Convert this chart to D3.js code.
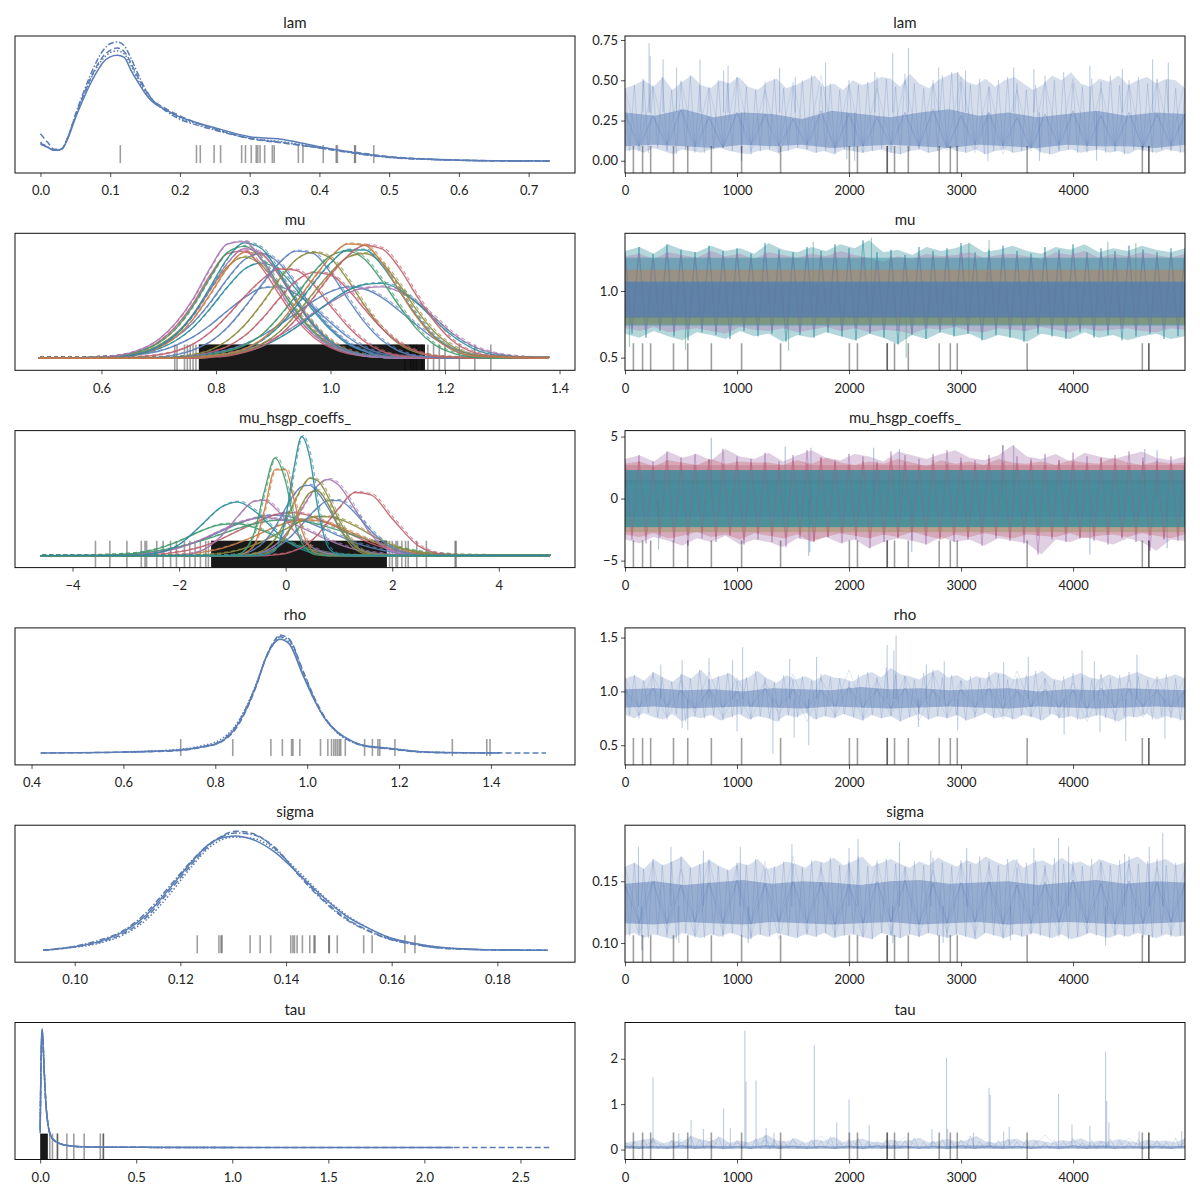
<!DOCTYPE html>
<html>
<head>
<meta charset="utf-8">
<script src="https://cdn.jsdelivr.net/npm/d3@7"></script>
<style>
  body { margin: 0; background: #fff; }
  text { font-family: Lato, "Noto Sans", sans-serif; fill: #222; }
</style>
</head>
<body>
<svg id="chart" width="1200" height="1200"></svg>
<script>
// ---------- data ----------
const titles = ['lam', 'mu', 'mu_hsgp_coeffs_', 'rho', 'sigma', 'tau'];

// divergent draws (marked on every trace panel, repeated ones are darker)
const divDraws = [75, 157, 229, 433, 560, 771, 1041, 1389, 2003, 2075, 2341, 2341, 2406, 2529, 2805, 2904, 2966, 3590, 4618, 4676, 4676];
const drawTicks = [0, 1000, 2000, 3000, 4000];

// lam
const lamGrid = [0, 0.01, 0.02, 0.03, 0.04, 0.05, 0.06, 0.07, 0.08, 0.09, 0.10, 0.11, 0.12, 0.13, 0.14, 0.15, 0.16, 0.18, 0.20, 0.22, 0.25, 0.30, 0.35, 0.40, 0.45, 0.50, 0.55, 0.60, 0.65, 0.73];
const lamKdeSolid = [0.14, 0.115, 0.09, 0.10, 0.20, 0.36, 0.50, 0.63, 0.74, 0.83, 0.875, 0.888, 0.87, 0.76, 0.66, 0.57, 0.50, 0.43, 0.37, 0.33, 0.28, 0.205, 0.18, 0.12, 0.07, 0.034, 0.017, 0.008, 0.003, 0];
const lamKdeDashed = [0.23, 0.16, 0.10, 0.10, 0.21, 0.38, 0.53, 0.67, 0.79, 0.88, 0.93, 0.95, 0.92, 0.82, 0.70, 0.60, 0.52, 0.44, 0.38, 0.33, 0.27, 0.19, 0.15, 0.11, 0.075, 0.038, 0.018, 0.008, 0.003, 0];
const lamKdeDotted = [0.16, 0.12, 0.09, 0.10, 0.20, 0.37, 0.52, 0.66, 0.78, 0.86, 0.91, 0.925, 0.90, 0.80, 0.68, 0.58, 0.51, 0.43, 0.36, 0.32, 0.27, 0.195, 0.16, 0.115, 0.07, 0.033, 0.016, 0.007, 0.002, 0];
const lamKdeDashDot = [0.15, 0.12, 0.09, 0.10, 0.21, 0.39, 0.55, 0.70, 0.83, 0.93, 0.985, 1.0, 0.97, 0.86, 0.73, 0.61, 0.52, 0.42, 0.35, 0.31, 0.26, 0.19, 0.155, 0.11, 0.065, 0.03, 0.015, 0.006, 0.002, 0];
const lamKdeTicks = [0, 0.1, 0.2, 0.3, 0.4, 0.5, 0.6, 0.7];
const lamRug = [0.1145, 0.2237, 0.2292, 0.249, 0.2583, 0.2885, 0.294, 0.3023, 0.3094, 0.3116, 0.3149, 0.3215, 0.3325, 0.3352, 0.3698, 0.3764, 0.4055, 0.4241, 0.4258, 0.4505, 0.4516, 0.4779];
const lamTraceTicks = [0, 0.25, 0.5, 0.75];
const lamUpper = [0.45, 0.47, 0.50, 0.46, 0.52, 0.44, 0.49, 0.53, 0.47, 0.45, 0.50, 0.48, 0.52, 0.46, 0.44, 0.49, 0.51, 0.45, 0.47, 0.50, 0.53, 0.46, 0.48, 0.44, 0.50, 0.47, 0.49, 0.52, 0.51, 0.46, 0.54, 0.48, 0.45, 0.50, 0.53, 0.55, 0.49, 0.47, 0.51, 0.46, 0.50, 0.52, 0.48, 0.44, 0.47, 0.53, 0.50, 0.55, 0.48, 0.46, 0.51, 0.49, 0.53, 0.47, 0.50, 0.52, 0.48, 0.51, 0.50, 0.45];
const lamLower = [0.06, 0.07, 0.05, 0.08, 0.06, 0.04, 0.07, 0.06, 0.05, 0.07, 0.08, 0.06, 0.05, 0.04, 0.06, 0.07, 0.05, 0.06, 0.08, 0.07, 0.05, 0.06, 0.04, 0.07, 0.06, 0.05, 0.06, 0.07, 0.05, 0.04, 0.06, 0.07, 0.05, 0.06, 0.08, 0.06, 0.05, 0.07, 0.04, 0.06, 0.07, 0.05, 0.06, 0.08, 0.05, 0.04, 0.06, 0.07, 0.05, 0.06, 0.07, 0.05, 0.06, 0.04, 0.07, 0.06, 0.05, 0.07, 0.06, 0.05];
const lamCoreHi = [0.30, 0.28, 0.32, 0.27, 0.30, 0.29, 0.26, 0.31, 0.29, 0.27, 0.30, 0.32, 0.28, 0.30, 0.27, 0.29, 0.31, 0.28, 0.30, 0.29];
const lamCoreLo = [0.09, 0.10, 0.09, 0.08, 0.10, 0.09, 0.10, 0.08, 0.09, 0.10, 0.09, 0.08, 0.10, 0.09, 0.08, 0.10, 0.09, 0.09, 0.08, 0.10];
const lamSpikeDraws = [160, 215, 225, 340, 460, 670, 880, 920, 1380, 1520, 1790, 2230, 2390, 2530, 2800, 2970, 3040, 3470, 3650, 4150, 4440, 4710, 4850, 1040, 1980, 2050, 3240, 3700, 4210];
const lamSpikeValues = [0.51, 0.73, 0.65, 0.63, 0.58, 0.63, 0.56, 0.59, 0.58, 0.52, 0.61, 0.55, 0.67, 0.70, 0.58, 0.55, 0.56, 0.58, 0.57, 0.59, 0.57, 0.63, 0.61, 0.0, 0.01, 0.0, 0.0, 0.0, 0.0];

// mu (one density per coordinate, shared grid)
const muGrid = [0.49, 0.60, 0.66, 0.70, 0.73, 0.76, 0.79, 0.82, 0.85, 0.88, 0.91, 0.94, 0.97, 1.00, 1.03, 1.06, 1.09, 1.12, 1.15, 1.18, 1.21, 1.25, 1.30, 1.38];
const muKdeCurves = [
  [0, .01, .03, .06, .11, .18, .28, .40, .51, .59, .60, .54, .43, .30, .18, .09, .04, .02, .01, 0, 0, 0, 0, 0],
  [0, .01, .03, .08, .15, .26, .42, .60, .75, .80, .74, .58, .40, .24, .12, .06, .02, .01, 0, 0, 0, 0, 0, 0],
  [0, .01, .04, .10, .18, .30, .47, .67, .83, .88, .80, .62, .42, .25, .13, .06, .02, .01, 0, 0, 0, 0, 0, 0],
  [0, .01, .04, .11, .21, .37, .58, .77, .85, .78, .60, .40, .23, .12, .05, .02, .01, 0, 0, 0, 0, 0, 0, 0],
  [0, .005, .03, .09, .18, .33, .54, .76, .89, .87, .70, .48, .29, .15, .07, .03, .01, 0, 0, 0, 0, 0, 0, 0],
  [0, .01, .05, .14, .27, .46, .70, .88, .90, .76, .54, .33, .18, .09, .04, .02, .01, 0, 0, 0, 0, 0, 0, 0],
  [0, .01, .05, .13, .25, .44, .68, .89, .94, .83, .61, .39, .22, .11, .05, .02, .01, 0, 0, 0, 0, 0, 0, 0],
  [0, .005, .03, .10, .20, .36, .58, .80, .92, .88, .70, .47, .27, .13, .06, .02, .01, 0, 0, 0, 0, 0, 0, 0],
  [0, .005, .03, .10, .20, .37, .60, .84, .97, .92, .72, .48, .28, .14, .06, .03, .01, 0, 0, 0, 0, 0, 0, 0],
  [0, .01, .06, .16, .30, .50, .76, .96, .98, .82, .58, .36, .20, .10, .05, .02, .01, 0, 0, 0, 0, 0, 0, 0],
  [0, 0, .01, .03, .06, .12, .22, .36, .52, .66, .75, .74, .62, .44, .27, .14, .06, .02, .01, 0, 0, 0, 0, 0],
  [0, 0, 0, .01, .03, .07, .14, .26, .43, .62, .80, .90, .88, .72, .50, .30, .15, .06, .02, .01, 0, 0, 0, 0],
  [0, 0, 0, 0, .01, .03, .07, .15, .28, .46, .66, .83, .89, .84, .66, .44, .25, .12, .05, .02, .01, 0, 0, 0],
  [0, 0, 0, 0, .01, .02, .05, .10, .19, .33, .50, .65, .72, .70, .58, .41, .25, .13, .06, .02, .01, 0, 0, 0],
  [0, 0, 0, 0, .01, .02, .04, .07, .12, .19, .28, .38, .48, .56, .60, .58, .51, .40, .28, .17, .09, .03, .01, 0],
  [0, 0, 0, 0, 0, .01, .02, .04, .07, .12, .19, .28, .38, .47, .55, .59, .60, .56, .47, .35, .22, .10, .03, 0],
  [0, 0, 0, 0, 0, .01, .02, .03, .06, .10, .17, .26, .37, .48, .57, .62, .63, .58, .47, .33, .20, .08, .02, 0],
  [0, 0, 0, 0, .01, .01, .03, .06, .11, .20, .35, .53, .72, .86, .90, .83, .65, .44, .25, .12, .05, .01, 0, 0],
  [0, 0, 0, 0, 0, 0, .01, .03, .06, .12, .22, .37, .55, .72, .85, .88, .80, .62, .41, .23, .11, .03, .01, 0],
  [0, 0, 0, 0, 0, .01, .02, .04, .08, .15, .27, .44, .63, .80, .91, .91, .78, .57, .36, .19, .08, .02, .01, 0],
  [0, 0, 0, 0, 0, 0, .01, .02, .05, .10, .19, .33, .51, .70, .86, .95, .92, .76, .53, .32, .16, .05, .01, 0],
  [0, 0, 0, 0, 0, .01, .02, .04, .08, .16, .29, .47, .67, .85, .96, .95, .80, .57, .35, .18, .08, .02, .01, 0]
];
const muKdeTicks = [0.6, 0.8, 1.0, 1.2, 1.4];
const muRug = [0.728, 0.732, 0.745, 0.75, 0.755, 0.76, 0.765, 1.13, 1.14, 1.145, 1.15, 1.16, 1.17, 1.18, 1.19, 1.20, 1.225, 1.252, 1.28];
const muRugDense = [0.77, 1.165];
const muTraceTicks = [0.5, 1.0];
const muUpperA = [1.30, 1.33, 1.28, 1.35, 1.31, 1.29, 1.34, 1.30, 1.32, 1.28, 1.36, 1.31, 1.29, 1.33, 1.30, 1.35, 1.32, 1.38, 1.29, 1.31, 1.27, 1.33, 1.30, 1.32, 1.36, 1.29, 1.31, 1.34, 1.30, 1.28, 1.33, 1.31, 1.35, 1.29, 1.32, 1.30, 1.34, 1.31, 1.29, 1.32];
const muLowerA = [0.68, 0.65, 0.70, 0.66, 0.63, 0.69, 0.67, 0.64, 0.70, 0.66, 0.68, 0.62, 0.67, 0.65, 0.69, 0.66, 0.63, 0.68, 0.65, 0.60, 0.67, 0.64, 0.69, 0.66, 0.68, 0.63, 0.67, 0.65, 0.62, 0.68, 0.66, 0.64, 0.69, 0.65, 0.67, 0.63, 0.66, 0.68, 0.64, 0.66];
const muUpperB = [1.26, 1.28, 1.24, 1.29, 1.27, 1.25, 1.30, 1.26, 1.28, 1.24, 1.29, 1.27, 1.25, 1.28, 1.26, 1.30, 1.27, 1.25, 1.22, 1.26, 1.24, 1.28, 1.26, 1.27, 1.29, 1.25, 1.27, 1.28, 1.26, 1.24, 1.29, 1.27, 1.30, 1.25, 1.28, 1.26, 1.29, 1.27, 1.25, 1.28];
const muLowerB = [0.72, 0.70, 0.73, 0.69, 0.71, 0.72, 0.70, 0.68, 0.73, 0.71, 0.70, 0.72, 0.69, 0.71, 0.73, 0.70, 0.72, 0.69, 0.71, 0.70, 0.68, 0.72, 0.71, 0.73, 0.70, 0.69, 0.72, 0.71, 0.70, 0.73, 0.71, 0.69, 0.72, 0.70, 0.71, 0.72, 0.70, 0.69, 0.72, 0.71];
const muBandLo = [0.74, 0.75, 1.07, 0.80];
const muBandHi = [1.25, 0.81, 1.16, 1.07];
const muSpikeDraws = [40, 540, 1460, 2510, 2200, 1680, 3250, 3070, 4310, 4560];
const muSpikeValues = [0.58, 0.56, 0.55, 0.50, 1.40, 1.37, 1.38, 1.36, 1.37, 1.36];

// mu_hsgp_coeffs_
const hsgpGrid = [-4.6, -3.5, -3.0, -2.5, -2.0, -1.6, -1.2, -0.9, -0.6, -0.4, -0.2, 0, 0.15, 0.3, 0.45, 0.6, 0.8, 1.0, 1.3, 1.6, 2.0, 2.5, 3.0, 3.5, 4.1, 4.95];
const hsgpKdeCurves = [
  [0, .001, .007, .024, .068, .128, .207, .266, .313, .333, .34, .333, .32, .30, .275, .247, .207, .166, .11, .068, .03, .009, .002, 0, 0, 0],
  [0, 0, .002, .009, .032, .072, .141, .207, .27, .31, .342, .358, .36, .352, .336, .31, .27, .229, .163, .104, .049, .016, .004, 0, 0, 0],
  [0, .003, .013, .034, .075, .124, .182, .227, .265, .284, .296, .30, .298, .291, .28, .265, .24, .212, .168, .124, .075, .034, .013, .004, .001, 0],
  [0, .001, .005, .021, .066, .132, .215, .275, .31, .32, .31, .29, .267, .236, .205, .17, .132, .095, .053, .027, .009, .002, 0, 0, 0, 0],
  [0, 0, 0, .002, .008, .026, .062, .106, .16, .202, .24, .272, .289, .298, .30, .293, .272, .24, .182, .124, .062, .020, .005, .001, 0, 0],
  [0, 0, 0, 0, 0, .005, .019, .045, .088, .127, .175, .224, .26, .291, .315, .327, .327, .307, .25, .175, .088, .026, .005, 0, 0, 0],
  [0, .002, .012, .047, .123, .205, .262, .268, .238, .205, .164, .123, .095, .072, .052, .037, .021, .012, .004, 0, 0, 0, 0, 0, 0, 0],
  [0, 0, 0, .015, .094, .25, .41, .45, .38, .30, .21, .13, .086, .053, .03, .017, .007, 0, 0, 0, 0, 0, 0, 0, 0, 0],
  [0, 0, 0, 0, .005, .038, .17, .33, .455, .465, .40, .30, .21, .14, .083, .046, .017, .006, 0, 0, 0, 0, 0, 0, 0, 0],
  [0, 0, 0, 0, 0, 0, 0, 0, 0, 0, .008, .018, .04, .067, .115, .175, .29, .40, .53, .51, .31, .08, .009, 0, 0, 0],
  [0, 0, 0, 0, 0, 0, 0, 0, .013, .036, .087, .18, .27, .39, .50, .59, .64, .59, .39, .18, .036, 0, 0, 0, 0, 0],
  [0, 0, 0, 0, 0, 0, 0, 0, .012, .029, .064, .122, .186, .259, .337, .404, .462, .462, .359, .21, .064, .007, 0, 0, 0, 0],
  [0, 0, 0, 0, 0, 0, 0, .009, .05, .12, .24, .40, .51, .58, .59, .53, .40, .24, .08, .017, 0, 0, 0, 0, 0, 0],
  [0, 0, 0, 0, 0, 0, 0, 0, .002, .014, .056, .16, .287, .428, .527, .545, .428, .24, .056, .006, 0, 0, 0, 0, 0, 0],
  [0, 0, 0, 0, 0, 0, 0, 0, .015, .05, .14, .30, .44, .57, .65, .63, .49, .30, .09, .015, 0, 0, 0, 0, 0, 0],
  [0, 0, 0, 0, 0, 0, 0, .005, .08, .38, .72, .72, .48, .22, .07, .015, 0, 0, 0, 0, 0, 0, 0, 0, 0, 0],
  [0, 0, 0, 0, 0, 0, 0, .01, .18, .54, .82, .62, .31, .11, .03, .005, 0, 0, 0, 0, 0, 0, 0, 0, 0, 0],
  [0, 0, 0, 0, 0, 0, 0, 0, 0, .005, .045, .32, .72, 1.0, .83, .41, .07, .01, 0, 0, 0, 0, 0, 0, 0, 0]
];
const hsgpKdeTicks = [-4, -2, 0, 2, 4];
const hsgpRug = [-3.57, -3.3, -2.98, -2.71, -2.64, -2.61, -2.42, -2.3, -2.16, -2.05, -1.9, -1.8, -1.7, -1.6, -1.5, -1.45, 1.95, 2.0, 2.07, 2.1, 2.18, 2.25, 2.3, 2.46, 2.64, 3.18, 3.2];
const hsgpRugDense = [-1.4, 1.9];
const hsgpTraceTicks = [-5, 0, 5];
const hsgpUpperA = [3.2, 3.5, 3.0, 3.8, 3.3, 3.6, 3.1, 4.0, 3.4, 3.2, 3.7, 3.0, 3.5, 3.9, 3.3, 3.1, 3.6, 3.4, 3.0, 3.8, 3.5, 3.2, 3.6, 3.9, 3.3, 3.1, 3.5, 4.3, 3.4, 3.2, 3.6, 3.0, 3.7, 3.4, 3.2, 3.5, 3.8, 3.3, 3.1, 3.4];
const hsgpLowerA = [-3.3, -3.6, -3.1, -3.4, -3.8, -3.2, -3.5, -3.0, -3.7, -3.3, -3.5, -3.9, -3.2, -3.4, -3.1, -3.6, -3.3, -4.0, -3.5, -3.2, -3.4, -3.7, -3.1, -3.5, -3.3, -3.8, -3.2, -3.4, -3.6, -4.5, -3.3, -3.5, -3.1, -3.4, -3.7, -3.2, -3.5, -4.2, -3.3, -3.4];
const hsgpUpperB = [2.8, 3.0, 2.6, 3.1, 2.9, 2.7, 3.2, 2.8, 3.0, 2.9, 2.9, 2.7, 3.1, 2.8, 3.3, 2.9, 2.7, 3.0, 2.8, 3.2, 2.9, 2.6, 3.1, 2.8, 3.0, 2.7, 3.2, 2.9, 2.8, 3.0, 2.7, 3.1, 2.9, 2.8, 3.3, 2.9, 2.7, 3.0, 2.8, 2.9];
const hsgpLowerB = [-2.9, -3.1, -2.8, -3.2, -3.0, -2.7, -3.1, -2.9, -3.3, -2.8, -3.0, -3.2, -2.9, -3.5, -3.1, -2.8, -3.0, -3.2, -2.9, -3.1, -2.7, -3.0, -3.3, -2.9, -3.1, -2.8, -3.0, -3.2, -2.9, -3.0, -3.1, -2.8, -3.2, -3.0, -2.9, -3.1, -2.8, -3.0, -3.2, -2.9];
const hsgpBandLo = [1.2, -2.7, -2.3, -1.5];
const hsgpBandHi = [2.7, -1.6, 2.3, 1.5];
const hsgpSpikeDraws = [770, 1430, 1660, 2220, 2450, 3370, 3470, 4640, 4750, 300, 1640, 1650, 2560, 4150, 4840];
const hsgpSpikeValues = [4.9, 4.2, 4.1, 4.1, 4.0, 4.3, 4.3, 4.0, 3.9, -4.1, -4.6, -4.3, -4.3, -4.5, -4.0];

// rho
const rhoGrid = [0.42, 0.60, 0.72, 0.77, 0.81, 0.84, 0.865, 0.89, 0.91, 0.93, 0.94, 0.96, 0.99, 1.015, 1.04, 1.065, 1.10, 1.13, 1.165, 1.21, 1.25, 1.30, 1.42, 1.52];
const rhoKdeSolid = [0, 0.008, 0.023, 0.05, 0.09, 0.19, 0.35, 0.58, 0.80, 0.93, 0.955, 0.92, 0.66, 0.45, 0.28, 0.18, 0.095, 0.058, 0.045, 0.025, 0.01, 0.004, 0, null];
const rhoKdeDashed = [0, 0.007, 0.02, 0.048, 0.088, 0.18, 0.34, 0.57, 0.80, 0.95, 0.99, 0.96, 0.70, 0.47, 0.29, 0.18, 0.09, 0.055, 0.04, 0.02, 0.008, 0.003, 0.001, 0];
const rhoKdeDotted = [null, 0.01, 0.03, 0.06, 0.11, 0.21, 0.37, 0.59, 0.80, 0.94, 0.97, 0.93, 0.67, 0.45, 0.28, 0.17, 0.09, 0.055, 0.045, 0.025, 0.01, 0.003, 0, null];
const rhoKdeDashDot = [null, 0.008, 0.025, 0.052, 0.095, 0.20, 0.36, 0.58, 0.79, 0.935, 0.975, 0.95, 0.69, 0.46, 0.285, 0.175, 0.09, 0.056, 0.042, 0.022, 0.009, 0.003, null, null];
const rhoKdeTicks = [0.4, 0.6, 0.8, 1.0, 1.2, 1.4];
const rhoRug = [0.7247, 0.838, 0.921, 0.946, 0.966, 0.969, 0.984, 1.029, 1.045, 1.053, 1.058, 1.062, 1.066, 1.070, 1.073, 1.083, 1.125, 1.142, 1.154, 1.158, 1.191, 1.316, 1.391, 1.398];
const rhoTraceTicks = [0.5, 1.0, 1.5];
const rhoUpper = [1.12, 1.15, 1.10, 1.18, 1.13, 1.09, 1.16, 1.12, 1.20, 1.11, 1.14, 1.17, 1.10, 1.13, 1.19, 1.12, 1.08, 1.15, 1.11, 1.14, 1.10, 1.16, 1.13, 1.12, 1.09, 1.15, 1.18, 1.13, 1.22, 1.16, 1.14, 1.11, 1.17, 1.20, 1.13, 1.15, 1.10, 1.14, 1.12, 1.18, 1.16, 1.11, 1.13, 1.15, 1.19, 1.12, 1.10, 1.14, 1.17, 1.13, 1.11, 1.16, 1.12, 1.15, 1.18, 1.14, 1.11, 1.13, 1.16, 1.12];
const rhoLower = [0.78, 0.75, 0.80, 0.76, 0.74, 0.79, 0.72, 0.77, 0.75, 0.78, 0.73, 0.76, 0.79, 0.74, 0.77, 0.75, 0.72, 0.78, 0.76, 0.80, 0.74, 0.77, 0.75, 0.79, 0.76, 0.73, 0.78, 0.75, 0.77, 0.72, 0.76, 0.79, 0.74, 0.77, 0.75, 0.78, 0.73, 0.76, 0.80, 0.75, 0.77, 0.74, 0.78, 0.76, 0.73, 0.79, 0.75, 0.77, 0.74, 0.76, 0.78, 0.75, 0.72, 0.77, 0.76, 0.79, 0.74, 0.77, 0.75, 0.73];
const rhoCoreHi = [1.02, 1.03, 1.01, 1.02, 1.00, 1.03, 1.02, 1.01, 1.04, 1.02, 1.03, 1.01, 1.02, 1.03, 1.00, 1.02, 1.01, 1.03, 1.02, 1.01];
const rhoCoreLo = [0.85, 0.86, 0.84, 0.85, 0.86, 0.85, 0.84, 0.86, 0.85, 0.84, 0.85, 0.86, 0.85, 0.84, 0.86, 0.85, 0.84, 0.85, 0.86, 0.85];
const rhoSpikeDraws = [320, 510, 750, 960, 1050, 1470, 1710, 2340, 2400, 2420, 2690, 2850, 3380, 3600, 4080, 4190, 4570, 1320, 1640, 1510, 4820, 4470, 3920, 4240, 2970, 2620, 1000, 560, 510];
const rhoSpikeValues = [1.25, 1.29, 1.31, 1.29, 1.41, 1.30, 1.32, 1.43, 1.38, 1.52, 1.25, 1.28, 1.27, 1.32, 1.38, 1.28, 1.34, 0.42, 0.50, 0.57, 0.56, 0.54, 0.60, 0.62, 0.64, 0.67, 0.63, 0.64, 0.66];

// sigma
const sigmaGrid = [0.094, 0.100, 0.1047, 0.109, 0.1134, 0.1178, 0.1221, 0.1257, 0.1279, 0.1304, 0.1337, 0.138, 0.1424, 0.1467, 0.151, 0.1554, 0.1597, 0.1641, 0.1692, 0.1765, 0.1895];
const sigmaKdeSolid = [0, 0.03, 0.075, 0.15, 0.29, 0.51, 0.74, 0.90, 0.945, 0.96, 0.93, 0.82, 0.64, 0.46, 0.30, 0.19, 0.105, 0.06, 0.025, 0.007, 0];
const sigmaKdeDashed = [0, 0.028, 0.068, 0.135, 0.27, 0.49, 0.72, 0.89, 0.96, 1.0, 0.98, 0.85, 0.64, 0.44, 0.28, 0.17, 0.095, 0.052, 0.02, 0.006, 0];
const sigmaKdeDotted = [null, 0.025, 0.06, 0.125, 0.25, 0.46, 0.70, 0.87, 0.93, 0.95, 0.94, 0.84, 0.66, 0.47, 0.31, 0.19, 0.10, 0.058, 0.024, 0.006, 0];
const sigmaKdeDashDot = [0, 0.035, 0.085, 0.16, 0.31, 0.53, 0.75, 0.90, 0.955, 0.985, 0.97, 0.86, 0.63, 0.43, 0.27, 0.165, 0.09, 0.05, 0.018, 0.005, 0];
const sigmaKdeTicks = [0.10, 0.12, 0.14, 0.16, 0.18];
const sigmaRug = [0.1232, 0.1273, 0.1277, 0.1279, 0.1332, 0.1351, 0.1371, 0.1409, 0.1413, 0.1416, 0.1421, 0.1431, 0.1445, 0.1453, 0.1455, 0.1481, 0.1482, 0.1497, 0.1547, 0.1563, 0.1625, 0.1644];
const sigmaTraceTicks = [0.10, 0.15];
const sigmaUpper = [0.162, 0.165, 0.160, 0.168, 0.163, 0.166, 0.170, 0.161, 0.164, 0.167, 0.162, 0.159, 0.165, 0.163, 0.168, 0.160, 0.162, 0.166, 0.164, 0.161, 0.167, 0.165, 0.169, 0.163, 0.166, 0.170, 0.162, 0.165, 0.168, 0.164, 0.161, 0.166, 0.163, 0.169, 0.165, 0.162, 0.167, 0.164, 0.170, 0.166, 0.163, 0.168, 0.161, 0.165, 0.167, 0.163, 0.169, 0.164, 0.166, 0.162, 0.168, 0.165, 0.163, 0.167, 0.170, 0.164, 0.166, 0.168, 0.163, 0.165];
const sigmaLower = [0.106, 0.108, 0.104, 0.107, 0.105, 0.103, 0.108, 0.106, 0.104, 0.107, 0.105, 0.108, 0.106, 0.103, 0.107, 0.105, 0.108, 0.106, 0.104, 0.107, 0.105, 0.108, 0.104, 0.106, 0.107, 0.105, 0.103, 0.108, 0.106, 0.104, 0.107, 0.105, 0.108, 0.106, 0.104, 0.107, 0.105, 0.103, 0.108, 0.106, 0.104, 0.107, 0.105, 0.108, 0.106, 0.104, 0.107, 0.103, 0.105, 0.108, 0.106, 0.104, 0.107, 0.105, 0.108, 0.106, 0.104, 0.107, 0.105, 0.106];
const sigmaCoreHi = [0.148, 0.150, 0.147, 0.149, 0.151, 0.148, 0.150, 0.149, 0.147, 0.150, 0.151, 0.148, 0.149, 0.150, 0.147, 0.149, 0.151, 0.148, 0.150, 0.149];
const sigmaCoreLo = [0.116, 0.115, 0.117, 0.116, 0.115, 0.117, 0.116, 0.115, 0.116, 0.117, 0.115, 0.116, 0.117, 0.115, 0.116, 0.117, 0.116, 0.115, 0.116, 0.117];
const sigmaSpikeDraws = [120, 410, 700, 1030, 1490, 2000, 2080, 2450, 2730, 3050, 3650, 3870, 3960, 4460, 4680, 4800, 150, 480, 1100, 2390, 2840, 3440, 4290];
const sigmaSpikeValues = [0.178, 0.178, 0.175, 0.178, 0.18, 0.177, 0.184, 0.182, 0.175, 0.177, 0.177, 0.185, 0.178, 0.172, 0.178, 0.189, 0.094, 0.10, 0.10, 0.10, 0.10, 0.102, 0.098];

// tau
const tauGrid = [0, 0.005, 0.01, 0.015, 0.02, 0.03, 0.04, 0.05, 0.07, 0.10, 0.15, 0.25, 0.5, 1.0, 2.15, 2.65];
const tauKdeSolid = [0.16, 0.78, 1.0, 0.88, 0.68, 0.36, 0.20, 0.12, 0.065, 0.035, 0.015, 0.005, 0.002, 0.001, 0, null];
const tauKdeDashed = [0.12, 0.72, 0.97, 0.90, 0.70, 0.38, 0.21, 0.125, 0.067, 0.036, 0.016, 0.005, 0.002, 0.001, 0, 0];
const tauKdeDotted = [0.14, 0.75, 0.99, 0.89, 0.69, 0.37, 0.205, 0.12, 0.066, 0.035, 0.015, 0.005, 0.002, 0.001, null, null];
const tauKdeDashDot = [0.15, 0.76, 0.98, 0.87, 0.67, 0.36, 0.20, 0.12, 0.064, 0.034, 0.015, 0.005, 0.002, 0.001, null, null];
const tauKdeTicks = [0, 0.5, 1.0, 1.5, 2.0, 2.5];
const tauRug = [0.05, 0.064, 0.09, 0.09, 0.139, 0.175, 0.229, 0.313, 0.329, 0.329];
const tauRugDense = [0.0, 0.04];
const tauTraceTicks = [0, 1, 2];
const tauUpper = [0.15, 0.18, 0.22, 0.25, 0.14, 0.20, 0.17, 0.30, 0.22, 0.18, 0.28, 0.15, 0.20, 0.16, 0.24, 0.32, 0.20, 0.18, 0.25, 0.15, 0.22, 0.19, 0.28, 0.16, 0.20, 0.24, 0.17, 0.15, 0.22, 0.18, 0.20, 0.26, 0.16, 0.19, 0.23, 0.17, 0.21, 0.30, 0.18, 0.15, 0.20, 0.24, 0.17, 0.22, 0.19, 0.15, 0.21, 0.18, 0.25, 0.16, 0.20, 0.17, 0.23, 0.19, 0.15, 0.22, 0.18, 0.20, 0.16, 0.25];
const tauLower = [0.02, 0.01, 0.02, 0.01, 0.02, 0.02, 0.01, 0.02, 0.01, 0.02, 0.02, 0.01, 0.02, 0.01, 0.02, 0.01, 0.02, 0.02, 0.01, 0.02, 0.01, 0.02, 0.01, 0.02, 0.02, 0.01, 0.02, 0.01, 0.02, 0.01, 0.02, 0.02, 0.01, 0.02, 0.01, 0.02, 0.01, 0.02, 0.02, 0.01, 0.02, 0.01, 0.02, 0.01, 0.02, 0.02, 0.01, 0.02, 0.01, 0.02, 0.01, 0.02, 0.02, 0.01, 0.02, 0.01, 0.02, 0.01, 0.02, 0.02];
const tauCoreHi = [0.08, 0.07, 0.09, 0.08, 0.07, 0.09, 0.08, 0.07, 0.08, 0.09, 0.07, 0.08, 0.09, 0.08, 0.07, 0.08, 0.09, 0.07, 0.08, 0.08];
const tauCoreLo = [0.02, 0.02, 0.02, 0.02, 0.02, 0.02, 0.02, 0.02, 0.02, 0.02, 0.02, 0.02, 0.02, 0.02, 0.02, 0.02, 0.02, 0.02, 0.02, 0.02];
const tauSpikeDraws = [250, 480, 590, 700, 880, 940, 1070, 1080, 1170, 1260, 1330, 1690, 1890, 2000, 2180, 2740, 2870, 2880, 3110, 3250, 3260, 3380, 3430, 3870, 3990, 4150, 4290, 4300, 4320, 4590, 4970];
const tauSpikeValues = [1.6, 0.36, 0.65, 0.45, 0.9, 0.47, 2.62, 1.5, 1.52, 0.48, 0.37, 2.3, 0.6, 1.1, 0.53, 0.45, 2.02, 0.45, 0.37, 1.36, 1.2, 0.4, 0.5, 1.22, 0.55, 0.52, 2.16, 1.07, 0.6, 0.4, 0.4];

// ---------- styles and layout ----------
const blue = '#5a7db5';
const palette = ['#5b80ba', '#c1606e', '#8c8b3c', '#2a8c9c', '#a775b0', '#c77c45', '#43996d'];
const chainDash = [null, '6,3', '1.5,2', '6,2,1.5,2'];
const muCurveColors = [0, 3, 0, 2, 5, 1, 6, 4, 3, 4, 1, 0, 2, 1, 0, 4, 3, 6, 2, 3, 1, 5];
const hsgpCurveColors = [0, 1, 6, 4, 5, 2, 6, 3, 4, 1, 4, 0, 0, 2, 2, 5, 6, 3];
const muBandColors = [palette[3], palette[2], palette[5], '#5b7ba3'];
const muBandOpacity = [0.45, 0.45, 0.45, 0.8];
const hsgpBandColors = [palette[1], palette[2], palette[3], '#2a8290'];
const hsgpBandOpacity = [0.35, 0.35, 0.75, 0.3];
const fontStack = 'Lato, "Noto Sans", sans-serif';

const leftX = 15, rightX = 625, axW = 560, axH = 137, top0 = 36, rowStep = 197.3;
const nDraws = 4999;
const kdeY = d3.scaleLinear().domain([-0.1, 1.05]).range([axH, 0]);

const panels = [
  { grid: lamGrid, chains: [lamKdeSolid, lamKdeDashed, lamKdeDotted, lamKdeDashDot], kdeDomain: [-0.0365, 0.7665], kdeTicks: lamKdeTicks, kdeFmt: '.1f',
    rug: lamRug, rugUp: 16, rugDown: 2,
    traceDomain: [-0.076, 0.775], traceTicks: lamTraceTicks, traceFmt: '.2f',
    upper: lamUpper, lower: lamLower, coreHi: lamCoreHi, coreLo: lamCoreLo, spikeDraws: lamSpikeDraws, spikeValues: lamSpikeValues, spikeBase: 0.3 },
  { grid: muGrid, curves: muKdeCurves, curveColors: muCurveColors, kdeDomain: [0.449, 1.427], kdeTicks: muKdeTicks, kdeFmt: '.1f',
    rug: muRug, rugDense: muRugDense, rugUp: 14, rugDown: 14,
    traceDomain: [0.405, 1.433], traceTicks: muTraceTicks, traceFmt: '.1f',
    zig: [[muUpperA, muLowerA, palette[3]], [muUpperB, muLowerB, palette[4]]],
    bandLo: muBandLo, bandHi: muBandHi, bandColors: muBandColors, bandOpacity: muBandOpacity,
    spikeDraws: muSpikeDraws, spikeValues: muSpikeValues, spikeBase: 0.95, spikeColor: palette[6] },
  { grid: hsgpGrid, curves: hsgpKdeCurves, curveColors: hsgpCurveColors, kdeDomain: [-5.08, 5.43], kdeTicks: hsgpKdeTicks, kdeFmt: 'd',
    rug: hsgpRug, rugDense: hsgpRugDense, rugUp: 15, rugDown: 14,
    traceDomain: [-5.56, 5.48], traceTicks: hsgpTraceTicks, traceFmt: 'd',
    zig: [[hsgpUpperA, hsgpLowerA, palette[4]], [hsgpUpperB, hsgpLowerB, palette[1]]],
    bandLo: hsgpBandLo, bandHi: hsgpBandHi, bandColors: hsgpBandColors, bandOpacity: hsgpBandOpacity,
    spikeDraws: hsgpSpikeDraws, spikeValues: hsgpSpikeValues, spikeBase: 0, spikeColor: palette[0] },
  { grid: rhoGrid, chains: [rhoKdeSolid, rhoKdeDashed, rhoKdeDotted, rhoKdeDashDot], kdeDomain: [0.364, 1.583], kdeTicks: rhoKdeTicks, kdeFmt: '.1f',
    rug: rhoRug, rugUp: 14, rugDown: 3,
    traceDomain: [0.317, 1.59], traceTicks: rhoTraceTicks, traceFmt: '.1f',
    upper: rhoUpper, lower: rhoLower, coreHi: rhoCoreHi, coreLo: rhoCoreLo, spikeDraws: rhoSpikeDraws, spikeValues: rhoSpikeValues, spikeBase: 0.93 },
  { grid: sigmaGrid, chains: [sigmaKdeSolid, sigmaKdeDashed, sigmaKdeDotted, sigmaKdeDashDot], kdeDomain: [0.0887, 0.1947], kdeTicks: sigmaKdeTicks, kdeFmt: '.2f',
    rug: sigmaRug, rugUp: 15, rugDown: 3,
    traceDomain: [0.0844, 0.1954], traceTicks: sigmaTraceTicks, traceFmt: '.2f',
    upper: sigmaUpper, lower: sigmaLower, coreHi: sigmaCoreHi, coreLo: sigmaCoreLo, spikeDraws: sigmaSpikeDraws, spikeValues: sigmaSpikeValues, spikeBase: 0.13 },
  { grid: tauGrid, chains: [tauKdeSolid, tauKdeDashed, tauKdeDotted, tauKdeDashDot], kdeDomain: [-0.131, 2.784], kdeTicks: tauKdeTicks, kdeFmt: '.1f',
    rug: tauRug, rugDense: tauRugDense, rugUp: 14, rugDown: 14,
    traceDomain: [-0.22, 2.8], traceTicks: tauTraceTicks, traceFmt: 'd',
    upper: tauUpper, lower: tauLower, coreHi: tauCoreHi, coreLo: tauCoreLo, spikeDraws: tauSpikeDraws, spikeValues: tauSpikeValues, spikeBase: 0.05 }
];

const svg = d3.select('#chart');
const defs = svg.append('defs');

function makeClip(id) {
  defs.append('clipPath').attr('id', id).append('rect').attr('width', axW).attr('height', axH);
  return `url(#${id})`;
}

function styleAxis(sel) {
  sel.select('.domain').remove();
  sel.selectAll('.tick line').attr('stroke', '#222').attr('stroke-width', 0.8);
  sel.selectAll('.tick text').attr('font-size', 13).attr('fill', '#222')
    .style('font-family', fontStack);
}

function frame(g, title) {
  g.append('rect').attr('width', axW).attr('height', axH)
    .attr('fill', 'none').attr('stroke', '#111').attr('stroke-width', 1);
  g.append('text').attr('x', axW / 2).attr('y', -8).attr('text-anchor', 'middle')
    .attr('font-size', 15).text(title);
}

// zigzag through alternating upper / lower envelope values
function zigzagPoints(upper, lower) {
  const n = Math.min(upper.length, lower.length);
  const idx = d3.scaleLinear().domain([0, n]).range([0, nDraws]);
  const pts = [];
  for (let i = 0; i < n; i++) {
    pts.push([idx(i), upper[i]]);
    pts.push([idx(i + 0.5), lower[i]]);
  }
  pts.push([nDraws, upper[n - 1]]);
  return pts;
}

function drawKde(p, i) {
  const g = svg.append('g').attr('transform', `translate(${leftX},${top0 + i * rowStep})`);
  const x = d3.scaleLinear().domain(p.kdeDomain).range([0, axW]);
  const plot = g.append('g').attr('clip-path', makeClip('kclip' + i));
  const y0 = kdeY(0);

  if (p.rugDense) {
    plot.append('rect')
      .attr('x', x(p.rugDense[0])).attr('width', x(p.rugDense[1]) - x(p.rugDense[0]))
      .attr('y', y0 - p.rugUp).attr('height', p.rugUp + p.rugDown)
      .attr('fill', '#000').attr('fill-opacity', 0.9);
  }
  plot.selectAll('line.rug').data(p.rug).join('line').attr('class', 'rug')
    .attr('x1', d => x(d)).attr('x2', d => x(d))
    .attr('y1', y0 - p.rugUp).attr('y2', y0 + p.rugDown)
    .attr('stroke', '#000').attr('stroke-opacity', 0.38).attr('stroke-width', 1.6);

  if (p.chains) {
    p.chains.forEach((vals, c) => {
      const line = d3.line()
        .defined((d, k) => vals[k] !== null)
        .x((d, k) => x(p.grid[k])).y((d, k) => kdeY(vals[k]))
        .curve(d3.curveMonotoneX);
      plot.append('path').attr('d', line(vals))
        .attr('fill', 'none').attr('stroke', blue).attr('stroke-width', 1.5)
        .attr('stroke-dasharray', chainDash[c]);
    });
  } else {
    p.curves.forEach((vals, c) => {
      const line = d3.line()
        .x((d, k) => x(p.grid[k])).y((d, k) => kdeY(vals[k]))
        .curve(d3.curveMonotoneX);
      const col = palette[p.curveColors[c % p.curveColors.length]];
      plot.append('path').attr('d', line(vals))
        .attr('fill', 'none').attr('stroke', col).attr('stroke-width', 1.4)
        .attr('stroke-opacity', 0.9);
      plot.append('path').attr('d', line(vals))
        .attr('fill', 'none').attr('stroke', col).attr('stroke-width', 1.1)
        .attr('stroke-dasharray', '4,3').attr('stroke-opacity', 0.7)
        .attr('transform', 'translate(1.5,-1)');
    });
  }

  const ax = g.append('g').attr('transform', `translate(0,${axH})`)
    .call(d3.axisBottom(x).tickValues(p.kdeTicks).tickFormat(d3.format(p.kdeFmt)).tickSizeOuter(0).tickSize(4).tickPadding(9));
  styleAxis(ax);
  frame(g, titles[i]);
}

function drawTrace(p, i) {
  const g = svg.append('g').attr('transform', `translate(${rightX},${top0 + i * rowStep})`);
  const x = d3.scaleLinear().domain([0, nDraws]).range([0, axW]);
  const y = d3.scaleLinear().domain(p.traceDomain).range([axH, 0]);
  const plot = g.append('g').attr('clip-path', makeClip('tclip' + i));
  const zig = d3.line().x(d => x(d[0])).y(d => y(d[1]));
  const band = (up, lo) => {
    const idx = d3.scaleLinear().domain([0, up.length - 1]).range([0, nDraws]);
    return d3.area().x((d, k) => x(idx(k))).y0((d, k) => y(lo[k])).y1(d => y(d))(up);
  };
  const zigLine = (pts, col, op) => plot.append('path').attr('d', zig(pts))
    .attr('fill', 'none').attr('stroke', col).attr('stroke-opacity', op).attr('stroke-width', 0.8);

  const spikes = (color, opacity) => {
    plot.selectAll(null).data(p.spikeDraws).join('line')
      .attr('x1', d => x(d)).attr('x2', d => x(d))
      .attr('y1', y(p.spikeBase)).attr('y2', (d, k) => y(p.spikeValues[k]))
      .attr('stroke', color).attr('stroke-opacity', opacity).attr('stroke-width', 1.1);
  };

  if (p.upper) {
    plot.append('path').attr('d', band(p.upper, p.lower)).attr('fill', blue).attr('fill-opacity', 0.25);
    plot.append('path').attr('d', band(p.coreHi, p.coreLo)).attr('fill', blue).attr('fill-opacity', 0.5);
    spikes(blue, 0.4);
    zigLine(zigzagPoints(p.upper, p.lower), blue, 0.3);
    zigLine(zigzagPoints(p.upper, p.coreLo), blue, 0.22);
    zigLine(zigzagPoints(p.coreHi, p.lower), blue, 0.22);
    zigLine(zigzagPoints(p.coreHi, p.coreLo), blue, 0.28);
  } else {
    spikes(p.spikeColor, 0.5);
    p.zig.forEach(([up, lo, col]) => {
      plot.append('path').attr('d', band(up, lo)).attr('fill', col).attr('fill-opacity', 0.35);
      zigLine(zigzagPoints(up, lo), col, 0.5);
    });
    p.bandLo.forEach((lo, b) => {
      plot.append('rect')
        .attr('x', 0).attr('width', axW)
        .attr('y', y(p.bandHi[b])).attr('height', y(lo) - y(p.bandHi[b]))
        .attr('fill', p.bandColors[b]).attr('fill-opacity', p.bandOpacity[b]);
    });
    // noisy texture over the bands
    p.zig.forEach(([up, lo, col]) => zigLine(zigzagPoints(up, lo), col, 0.25));
  }

  // divergence markers along the bottom
  plot.selectAll('line.div').data(divDraws).join('line').attr('class', 'div')
    .attr('x1', d => x(d)).attr('x2', d => x(d))
    .attr('y1', axH - 27).attr('y2', axH)
    .attr('stroke', '#000').attr('stroke-opacity', 0.38).attr('stroke-width', 1.6);

  const ax = g.append('g').attr('transform', `translate(0,${axH})`)
    .call(d3.axisBottom(x).tickValues(drawTicks).tickFormat(d3.format('d')).tickSizeOuter(0).tickSize(4).tickPadding(9));
  styleAxis(ax);
  const ay = g.append('g')
    .call(d3.axisLeft(y).tickValues(p.traceTicks).tickFormat(d3.format(p.traceFmt)).tickSizeOuter(0).tickSize(4).tickPadding(3));
  styleAxis(ay);
  frame(g, titles[i]);
}

panels.forEach((p, i) => {
  drawKde(p, i);
  drawTrace(p, i);
});
</script>
</body>
</html>
